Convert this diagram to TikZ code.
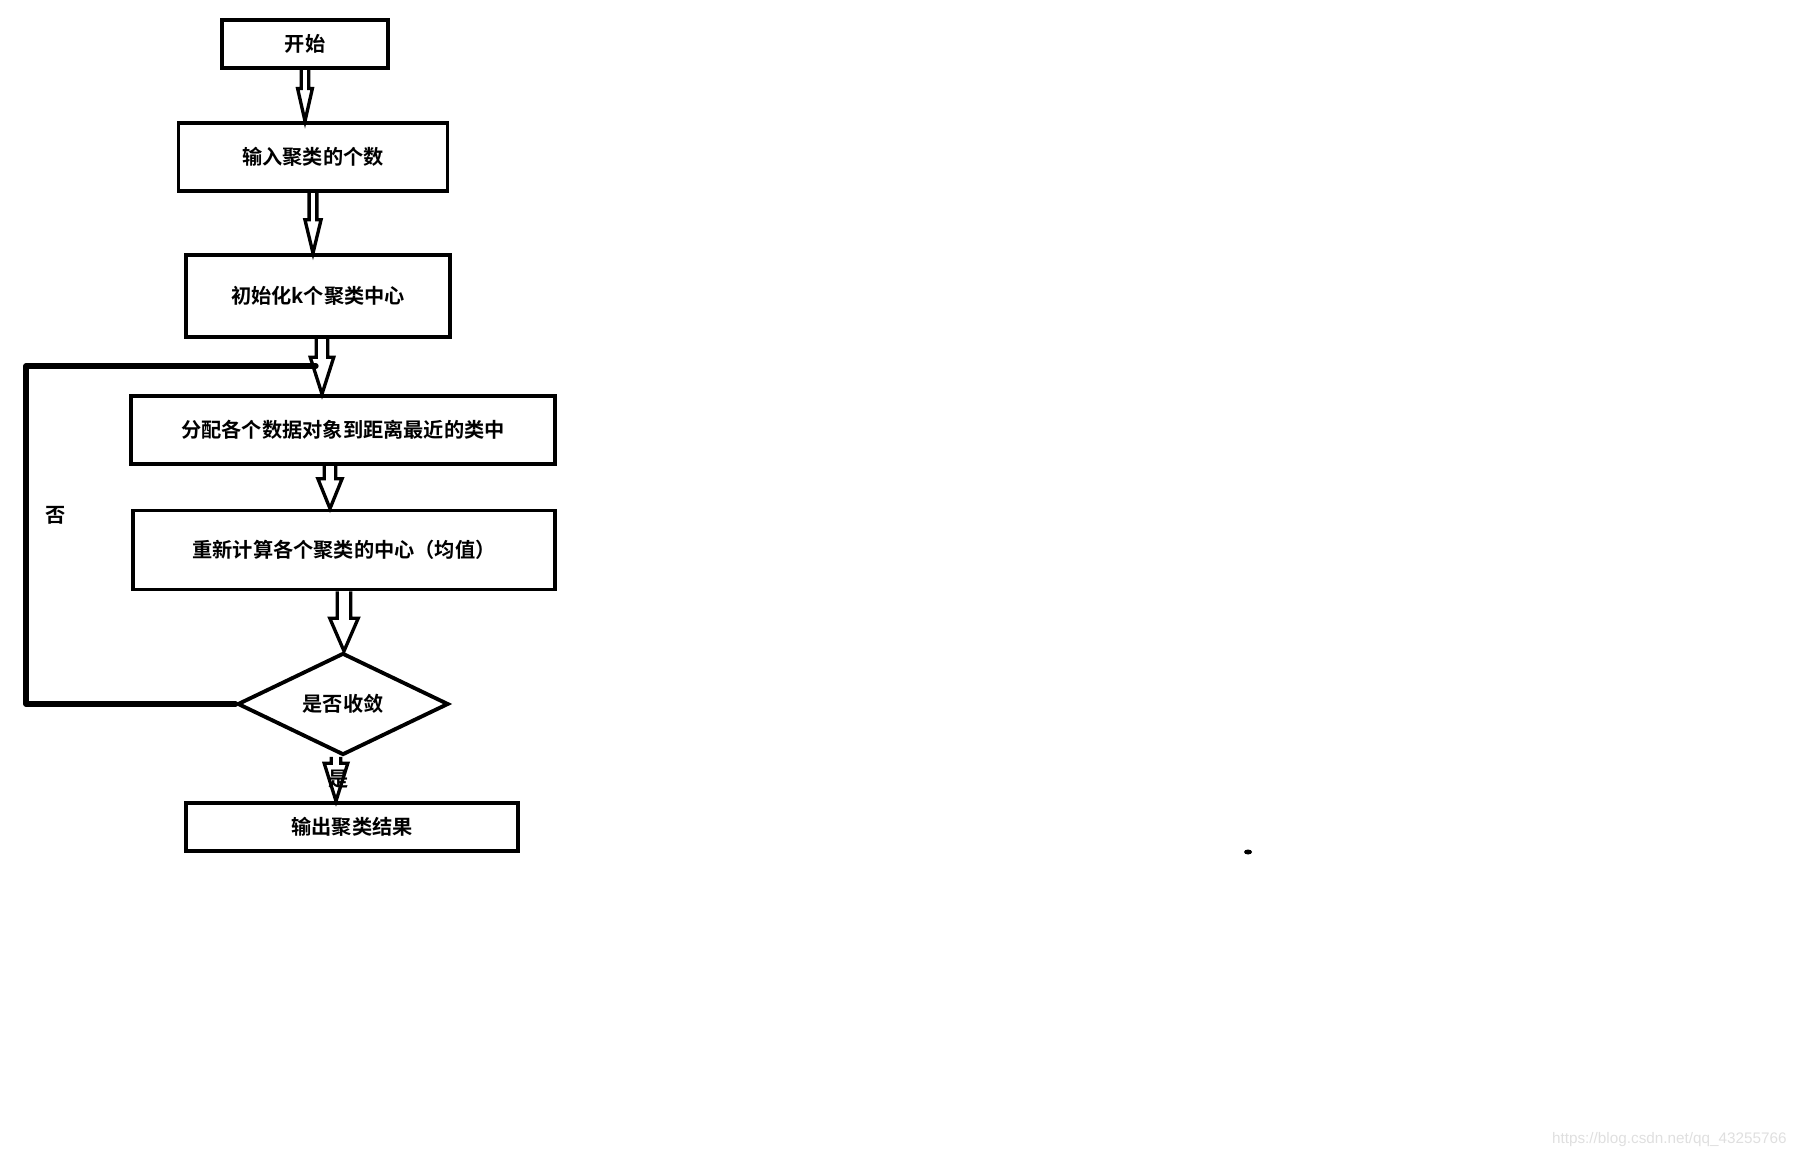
\documentclass[tikz,border=0pt]{standalone}
\usepackage{fontspec}
\newfontfamily\cjk{Noto Sans CJK SC}[BoldFont={Noto Sans CJK SC Bold}]
\setsansfont{Liberation Sans}
\usetikzlibrary{shapes.geometric}

\tikzset{
  box/.style={draw, line width=2.2pt, rectangle, inner sep=0pt, font=\cjk\bfseries\fontsize{11.5}{13}\selectfont},
  blockline/.style={line width=1.9pt},
  loopline/.style={line width=3pt, line cap=round, line join=round},
  lbl/.style={font=\cjk\bfseries\fontsize{11.5}{13}\selectfont, inner sep=0pt},
}

% flecha hueca: desde, hasta, medio ancho del cuerpo, medio ancho de la punta, largo de la punta
\newcommand{\blockarrow}[5]{%
  \draw[blockline] ([xshift=-#3]#1) -- ([xshift=-#3,yshift=#5]#2) -- ([xshift=-#4,yshift=#5]#2)
    -- (#2) -- ([xshift=#4,yshift=#5]#2) -- ([xshift=#3,yshift=#5]#2) -- ([xshift=#3]#1);}

\begin{document}
\begin{tikzpicture}[x=0.02cm,y=-0.02cm]
	\useasboundingbox (0,0) rectangle (1802,1158);
	
	% Cajas
	\node[box, minimum width=3.32cm, minimum height=0.96cm] (start) at (305,44) {开始};
	\node[box, minimum width=5.38cm, minimum height=1.36cm] (input) at (313,157) {输入聚类的个数};
	\node[box, minimum width=5.28cm, minimum height=1.64cm] (init) at (318,296) {初始化k个聚类中心};
	\node[box, minimum width=8.48cm, minimum height=1.36cm] (assign) at (343,430) {分配各个数据对象到距离最近的类中};
	\node[box, minimum width=8.44cm, minimum height=1.58cm] (update) at (344,550) {重新计算各个聚类的中心（均值）};
	\node[box, diamond, minimum width=4.22cm, minimum height=2.04cm] (check) at (343,704) {是否收敛};
	\node[box, minimum width=6.64cm, minimum height=0.96cm] (output) at (352,827) {输出聚类结果};
	
	% Flechas
	\coordinate (a3) at ([xshift=0.08cm]init.south);
	\coordinate (a4) at ([xshift=-0.26cm]assign.south);
	\coordinate (a6) at ([xshift=-0.14cm]check.south);
	\blockarrow{start.south}{start.south |- input.north}{2.1pt}{4.2pt}{18.5pt}
	\blockarrow{input.south}{input.south |- init.north}{2.2pt}{4.6pt}{19pt}
	\blockarrow{a3}{a3 |- assign.north}{3.3pt}{6.7pt}{21pt}
	\blockarrow{a4}{a4 |- update.north}{3.3pt}{6.9pt}{17pt}
	\blockarrow{update.south}{update.south |- check.north}{3.8pt}{8.1pt}{18.7pt}
	\blockarrow{a6}{a6 |- output.north}{2.7pt}{6.7pt}{21.5pt}
	
	% Lazo
	\coordinate (loopleft) at (26,366);
	\coordinate (join) at (316,366);
	\draw[loopline] (check.west) -| (loopleft) -- (join);
	
	% Etiquetas
	\node[lbl] (no) at (56,515) {否};
	\node[lbl] (yes) at (339,779) {是};
	
	% Marca
	\fill (1248,852) ellipse [x radius=0.08cm, y radius=0.05cm];
	\node[anchor=east, text=gray!25, font=\sffamily\fontsize{8.7}{10}\selectfont, inner sep=0pt] (url) at (1787,1140) {https://blog.csdn.net/qq\_43255766};
	
\end{tikzpicture}
\end{document}
